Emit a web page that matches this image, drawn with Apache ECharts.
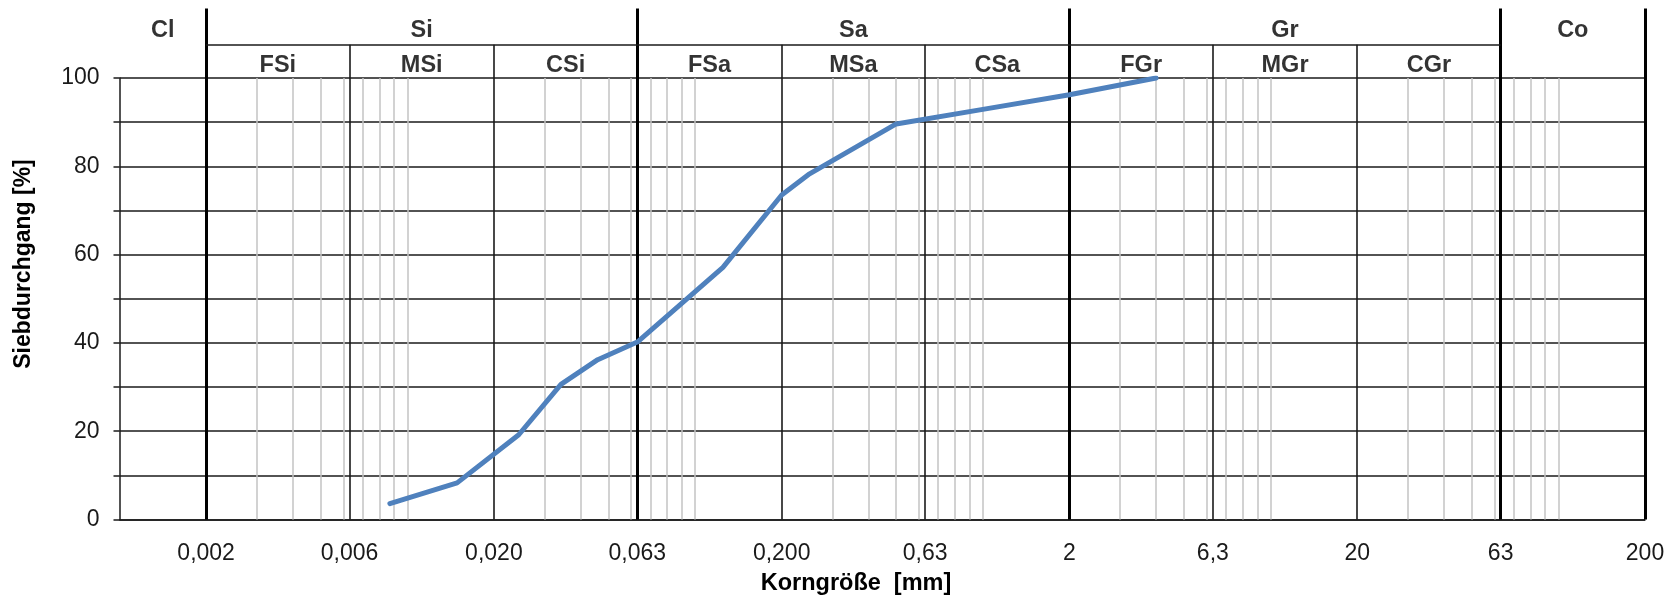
<!DOCTYPE html>
<html>
<head>
<meta charset="utf-8">
<script src="https://cdn.jsdelivr.net/npm/echarts@6/dist/echarts.min.js"></script>
<style>
  html, body { margin: 0; padding: 0; background: #ffffff; }
  #chart { width: 1669px; height: 599px; }
</style>
</head>
<body>
<div id="chart"></div>
<script>
// ---- data ----
const grainSize = [0.0087, 0.0149, 0.0244, 0.0342, 0.0459, 0.063, 0.125, 0.2, 0.25, 0.5, 1, 2, 4];
const passing   = [3.6,    8.3,    19.2,   30.6,   36.2,   40.2,  57.1,  73.5, 78.3, 89.6, 92.9, 96.2, 100];

const tickValues = [0.002, 0.0063, 0.02, 0.063, 0.2, 0.63, 2, 6.3, 20, 63, 200];
const tickLabels = ['0,002', '0,006', '0,020', '0,063', '0,200', '0,63', '2', '6,3', '20', '63', '200'];

const mainBounds = [0.002, 0.063, 2, 63, 200];
const subBounds  = [0.0063, 0.02, 0.2, 0.63, 6.3, 20];
const minorGridValues = [0.003, 0.004, 0.005, 0.006, 0.007, 0.008, 0.009, 0.01,
                         0.03, 0.04, 0.05, 0.06, 0.07, 0.08, 0.09, 0.1,
                         0.3, 0.4, 0.5, 0.6, 0.7, 0.8, 0.9, 1,
                         3, 4, 5, 6, 7, 8, 9, 10,
                         30, 40, 50, 60, 70, 80, 90, 100];

const mainClasses = ['Cl', 'Si', 'Sa', 'Gr', 'Co'];
const mainClassEdges = [0.001, 0.002, 0.063, 2, 63, 200];
const subClasses = ['FSi', 'MSi', 'CSi', 'FSa', 'MSa', 'CSa', 'FGr', 'MGr', 'CGr'];
const subClassEdges = [0.002, 0.0063, 0.02, 0.063, 0.2, 0.63, 2, 6.3, 20, 63];

const xMin = 0.001, xMax = 200;

// ---- chart ----
const FONT = '"Liberation Sans", Arial, sans-serif';
const chart = echarts.init(document.getElementById('chart'), null, { renderer: 'canvas' });

function labelFor(v) {
  let best = 0, bd = Infinity;
  tickValues.forEach((t, i) => { const d = Math.abs(Math.log(v / t)); if (d < bd) { bd = d; best = i; } });
  return tickLabels[best];
}

const HEAD_TOP = 1.42, HEAD_BOT = 0.39, HEAD_MAX = 2.097;

const headerLabels = [];
mainClasses.forEach((n, i) => headerLabels.push({ name: n, value: [Math.sqrt(mainClassEdges[i] * mainClassEdges[i + 1]), HEAD_TOP] }));
subClasses.forEach((n, i) => headerLabels.push({ name: n, value: [Math.sqrt(subClassEdges[i] * subClassEdges[i + 1]), HEAD_BOT] }));

function vLines(values, style) {
  return values.map(v => [{ coord: [v, 0], lineStyle: style }, { coord: [v, 100] }]);
}

const option = {
  animation: false,
  backgroundColor: '#ffffff',
  grid: [
    { left: 119.5, width: 1525.5, top: 78, height: 441.5 },
    { left: 119.5, width: 1525.5, top: 8.5, height: 69.5 }
  ],
  xAxis: [
    {
      type: 'log', logBase: 10, min: xMin, max: xMax, gridIndex: 0,
      axisLine: { show: true, lineStyle: { color: '#1a1a1a', width: 1.5 } },
      axisTick: { show: false },
      splitLine: { show: false },
      minorSplitLine: { show: false },
      axisLabel: {
        customValues: tickValues,
        formatter: labelFor,
        color: '#1a1a1a', fontFamily: FONT, fontSize: 23, margin: 23,
        showMinLabel: true, showMaxLabel: true, hideOverlap: false
      }
    },
    {
      type: 'log', logBase: 10, min: xMin, max: xMax, gridIndex: 1, show: false
    }
  ],
  yAxis: [
    {
      type: 'value', min: 0, max: 100, interval: 10, gridIndex: 0,
      axisLine: { show: true, lineStyle: { color: '#1a1a1a', width: 1.5 } },
      axisTick: { show: true, length: 6, lineStyle: { color: '#1a1a1a', width: 1.5 } },
      splitLine: { show: true, lineStyle: { color: '#1a1a1a', width: 1.6 } },
      axisLabel: {
        formatter: v => (v % 20 === 0 ? String(v) : ''),
        color: '#1a1a1a', fontFamily: FONT, fontSize: 23, margin: 20
      }
    },
    { type: 'value', min: 0, max: HEAD_MAX, gridIndex: 1, show: false }
  ],
  graphic: [
    {
      type: 'text', x: 24, y: 264, rotation: Math.PI / 2,
      style: { text: 'Siebdurchgang [%]', font: 'bold 23px ' + FONT, fill: '#000', align: 'center', verticalAlign: 'middle' }
    },
    {
      type: 'text', x: 856, y: 584,
      style: { text: 'Korngröße  [mm]', font: 'bold 23.5px ' + FONT, fill: '#000', align: 'center', verticalAlign: 'middle' }
    }
  ],
  series: [
    {
      type: 'line', xAxisIndex: 0, yAxisIndex: 0, data: [], z: -1, silent: true,
      markLine: {
        silent: true, symbol: ['none', 'none'], label: { show: false }, animation: false, precision: 10,
        data: vLines(minorGridValues, { color: '#c3c3c3', width: 1.5, type: 'solid' })
      }
    },
    {
      type: 'line', xAxisIndex: 0, yAxisIndex: 0, data: [], z: 3, silent: true,
      markLine: {
        silent: true, symbol: ['none', 'none'], label: { show: false }, animation: false, precision: 10,
        data: vLines(subBounds, { color: '#1a1a1a', width: 1.6, type: 'solid' })
      }
    },
    {
      type: 'line', xAxisIndex: 0, yAxisIndex: 0, data: [], z: 4, silent: true,
      markLine: {
        silent: true, symbol: ['none', 'none'], label: { show: false }, animation: false, precision: 10,
        data: vLines(mainBounds, { color: '#000000', width: 3, type: 'solid' })
      }
    },
    {
      type: 'line', xAxisIndex: 1, yAxisIndex: 1, data: [], z: 4, silent: true,
      markLine: {
        silent: true, symbol: ['none', 'none'], label: { show: false }, animation: false, precision: 10,
        data: [].concat(
          mainBounds.map(v => [{ coord: [v, 0], lineStyle: { color: '#000', width: 3, type: 'solid' } }, { coord: [v, HEAD_MAX] }]),
          subBounds.map(v => [{ coord: [v, 0], lineStyle: { color: '#1a1a1a', width: 1.6, type: 'solid' } }, { coord: [v, 1] }]),
          [[{ coord: [mainBounds[0], 1], lineStyle: { color: '#1a1a1a', width: 1.6, type: 'solid' } }, { coord: [mainBounds[3], 1] }]]
        )
      }
    },
    {
      type: 'scatter', xAxisIndex: 1, yAxisIndex: 1, z: 5, silent: true,
      symbolSize: 1, itemStyle: { color: 'rgba(0,0,0,0)' },
      label: { show: true, position: 'inside', formatter: '{b}', color: '#000', fontFamily: FONT, fontWeight: 'bold', fontSize: 23.5 },
      data: headerLabels
    },
    {
      name: 'Siebdurchgang', type: 'line', xAxisIndex: 0, yAxisIndex: 0, z: 10,
      symbol: 'none', smooth: false,
      lineStyle: { color: '#4f81bd', width: 5, join: 'round', cap: 'round' },
      data: grainSize.map((x, i) => [x, passing[i]])
    }
  ]
};
chart.setOption(option);
</script>
</body>
</html>
